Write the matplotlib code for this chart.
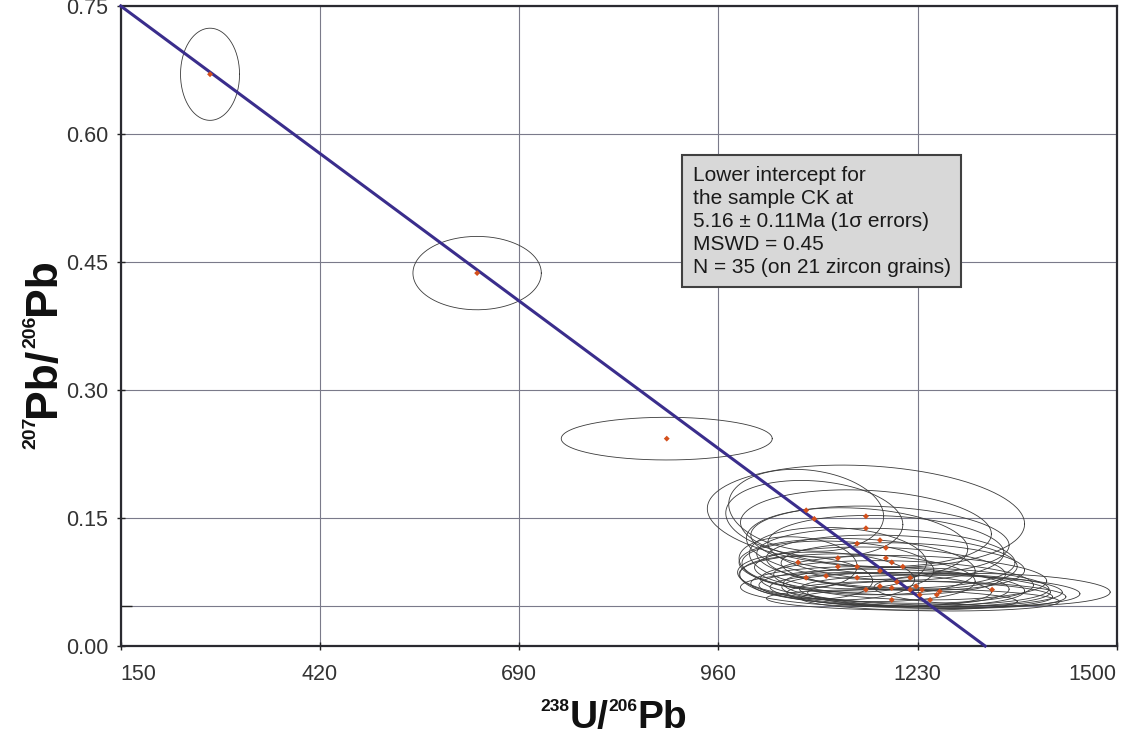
import numpy as np
import matplotlib
matplotlib.use("Agg")
import matplotlib.pyplot as plt

plt.rcParams['font.family'] = ['Liberation Sans', 'DejaVu Sans']

# ---- data (238U/206Pb, 207Pb/206Pb, 1-sigma ellipse half-axes, correlation) ----
u238_pb206 = [271, 633, 890,
              1079, 1090, 1160, 1160, 1179, 1148, 1187, 1187, 1068, 1122,
              1122, 1148, 1179, 1195, 1210, 1079, 1106, 1148, 1179, 1195,
              1202, 1220, 1228, 1220, 1233, 1236, 1256, 1260, 1195, 1247,
              1331, 1160]
pb207_pb206 = [0.670, 0.437, 0.243,
               0.159, 0.149, 0.152, 0.138, 0.124, 0.120, 0.115, 0.103, 0.098, 0.103,
               0.093, 0.093, 0.088, 0.098, 0.093, 0.080, 0.082, 0.080, 0.070, 0.068,
               0.075, 0.066, 0.070, 0.080, 0.060, 0.066, 0.060, 0.064, 0.054, 0.054,
               0.066, 0.066]
err_x = [40, 87, 143,
         105, 120, 215, 170, 175, 150, 160, 175, 80, 120,
         130, 160, 170, 170, 165, 90, 120, 160, 175, 180,
         185, 190, 180, 185, 180, 190, 175, 190, 170, 175,
         160, 170]
err_y = [0.054, 0.043, 0.025,
         0.048, 0.045, 0.060, 0.045, 0.040, 0.042, 0.038, 0.035, 0.030, 0.036,
         0.030, 0.033, 0.028, 0.032, 0.028, 0.025, 0.028, 0.028, 0.023, 0.022,
         0.025, 0.020, 0.022, 0.026, 0.016, 0.020, 0.016, 0.019, 0.012, 0.013,
         0.019, 0.020]
rho = [0.0, 0.0, 0.0] + [-0.15] * 32

# regression line (Tera-Wasserburg)
line_x = [150, 1321.5]
line_y = [0.75, 0.0]

x_ticks = [150, 420, 690, 960, 1230, 1500]
y_ticks = [0.00, 0.15, 0.30, 0.45, 0.60, 0.75]
y_extra_tick = [0.047]

info_text = ("Lower intercept for\nthe sample CK at\n5.16 \u00b1 0.11Ma (1\u03c3 errors)\n"
             "MSWD = 0.45\nN = 35 (on 21 zircon grains)")

W, H = 1136, 742

# ---- figure ----
fig = plt.figure(figsize=(W / 100, H / 100), dpi=100)
ax = fig.add_axes([0.1063, 0.1294, 0.8768, 0.8625])

ax.set_xlim(150, 1500)
ax.set_ylim(0, 0.75)

ax.set_xticks(x_ticks)
ax.set_yticks(y_ticks)
ax.set_yticks(y_extra_tick, minor=True)
ax.set_yticklabels([f"{v:.2f}" for v in y_ticks])
ax.grid(True, which='major', color='#7a7a8a', linewidth=0.8)
ax.grid(True, which='minor', axis='y', color='#7a7a8a', linewidth=0.8)
ax.set_axisbelow(True)

ax.tick_params(axis='both', which='major', direction='inout', length=6,
               width=1, labelsize=15.5, colors='#222222', labelcolor='#333333')
ax.tick_params(axis='x', pad=10)
ax.tick_params(axis='y', pad=6)
ax.tick_params(axis='y', which='minor', direction='in', length=8, width=1, color='#222222')

labels = ax.get_xticklabels()
labels[0].set_horizontalalignment('left')
labels[-1].set_horizontalalignment('right')

for s in ax.spines.values():
    s.set_color('#2a2a30')
    s.set_linewidth(1.6)

# error ellipses
t = np.linspace(0, 2 * np.pi, 200)
for cx, cy, a, b, r in zip(u238_pb206, pb207_pb206, err_x, err_y, rho):
    ex = cx + a * np.cos(t)
    ey = cy + b * (r * np.cos(t) + np.sqrt(1 - r * r) * np.sin(t))
    ax.plot(ex, ey, color='#3a3a3a', linewidth=0.6, zorder=3)

# regression line
ax.plot(line_x, line_y, color='#3a2d8c', linewidth=2.2, zorder=4, clip_on=False)

# data points
ax.scatter(u238_pb206, pb207_pb206, marker='D', s=9, color='#d4501c',
           edgecolors='none', zorder=5)

# info box
ax.text(925, 0.563, info_text, fontsize=15, color='#1a1a1a', va='top', ha='left',
        linespacing=1.27, zorder=6,
        bbox=dict(boxstyle='square,pad=0.5', facecolor='#d8d8d8',
                  edgecolor='#404040', linewidth=1.5))

# axis titles with small superscripts
def draw_label(pieces, cx, cy, rotated, lift):
    r = fig.canvas.get_renderer()
    widths = []
    for s, fs, sup in pieces:
        tt = fig.text(0, 0, s, fontsize=fs, fontweight='bold')
        widths.append(tt.get_window_extent(r).width)
        tt.remove()
    pos = -sum(widths) / 2
    for (s, fs, sup), w in zip(pieces, widths):
        d = lift if sup else 0
        if not rotated:
            fig.text((cx + pos) / W, (cy + d) / H, s, fontsize=fs, fontweight='bold',
                     color='#111111', ha='left', va='baseline')
        else:
            fig.text((cx - d) / W, (cy + pos) / H, s, fontsize=fs, fontweight='bold',
                     color='#111111', ha='left', va='baseline', rotation=90,
                     rotation_mode='anchor')
        pos += w

xlabel_parts = [("238", 12.5, True), ("U/", 28, False), ("206", 12.5, True), ("Pb", 28, False)]
ylabel_parts = [("207", 14, True), ("Pb/", 32, False), ("206", 14, True), ("Pb", 32, False)]
draw_label(xlabel_parts, 614, H - 728, False, 17)
draw_label(ylabel_parts, 55, H - 354, True, 20)

fig.savefig('out.png', dpi=100)
